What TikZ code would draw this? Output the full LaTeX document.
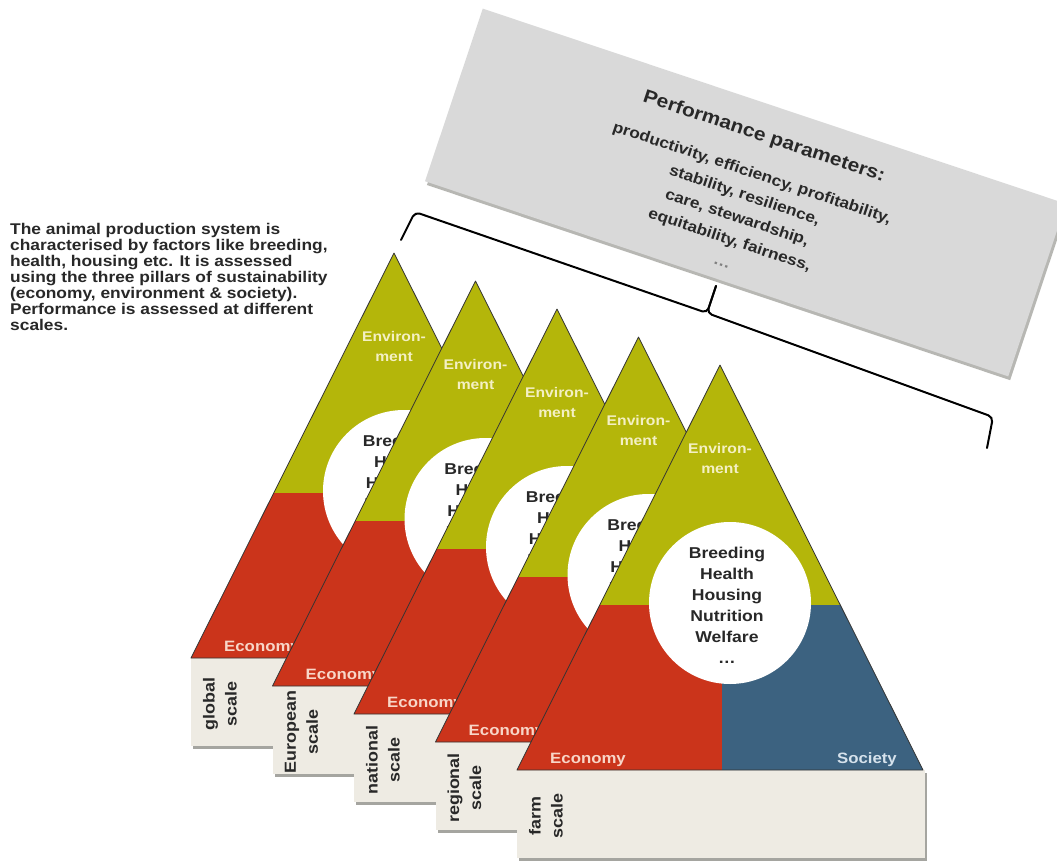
\documentclass[tikz,border=0pt]{standalone}
\usepackage{fontspec}
\setmainfont{Liberation Sans}[FakeStretch=1.12]
\definecolor{envcol}{RGB}{180,182,10}
\definecolor{ecocol}{RGB}{203,52,27}
\definecolor{soccol}{RGB}{60,98,128}
\definecolor{scalebg}{RGB}{238,235,227}
\definecolor{boxgray}{RGB}{217,217,217}
\definecolor{shadowcol}{RGB}{165,165,160}
\definecolor{envtxtcol}{RGB}{244,240,196}
\definecolor{ecotxtcol}{RGB}{248,214,200}
\definecolor{soctxtcol}{RGB}{214,226,236}
\definecolor{darktxt}{RGB}{40,40,40}
\tikzset{
  edge/.style={draw=black!80, line width=0.8pt, line join=round},
  scalebox/.style={fill=scalebg, minimum width=408pt, minimum height=88pt, inner sep=0pt},
  corecircle/.style={circle, fill=white, minimum size=162pt, inner sep=0pt},
  envtxt/.style={text=envtxtcol, align=center, inner sep=0pt, font=\fontsize{14}{20}\selectfont\bfseries},
  listtxt/.style={text=darktxt, align=center, inner sep=0pt, font=\fontsize{15.7}{21}\selectfont\bfseries},
  ecotxt/.style={text=ecotxtcol, inner sep=0pt, font=\fontsize{15}{18}\selectfont\bfseries},
  soctxt/.style={text=soctxtcol, inner sep=0pt, font=\fontsize{15}{18}\selectfont\bfseries},
  scaletxt/.style={text=darktxt, align=center, inner sep=0pt, rotate=90, font=\fontsize{16}{22}\selectfont\bfseries},
  lefttxt/.style={text=darktxt, align=left, inner sep=0pt, font=\fontsize{15.5}{16}\selectfont\bfseries},
  titletxt/.style={text=darktxt, inner sep=0pt, font=\fontsize{18.7}{22}\selectfont\bfseries},
  bodytxt/.style={text=darktxt, align=center, inner sep=0pt, font=\fontsize{15.4}{23.5}\selectfont\bfseries},
  bracestyle/.style={draw=black, line width=2pt, rounded corners=5pt, line cap=round},
}
\newcommand\pyramid[4]{%
  \begin{scope}[shift={(#2,#3)}]
    \fill[shadowcol] (-201,408) rectangle (207,496);
    \node[scalebox] (#1box) at (1,449) {};
    \begin{scope}
      \clip (0,0) -- (-203,405) -- (203,405) -- cycle;
      \fill[envcol] (-210,-5) rectangle (210,240);
      \fill[ecocol] (-210,240) rectangle (2,410);
      \fill[soccol] (2,240) rectangle (210,410);
    \end{scope}
    \node[corecircle] (#1core) at (10,238) {};
    \draw[edge] (0,0) coordinate (#1apex) -- (-203,405) coordinate (#1bl) -- (203,405) coordinate (#1br) -- cycle;
    \node[envtxt] (#1env) at (0,93) {Environ-\\ment};
    \node[listtxt] (#1list) at (7,240) {Breeding\\Health\\Housing\\Nutrition\\Welfare\\\ldots};
    \node[ecotxt, anchor=base west] (#1eco) at (-170,398) {Economy};
    \node[soctxt, anchor=base east] (#1soc) at (177,398) {Society};
    \node[scaletxt] (#1scale) at (-174,451) {#4};
  \end{scope}}
\begin{document}
\begin{tikzpicture}[x=1pt,y=-1pt]
  \useasboundingbox (0,0) rectangle (1057,861);
  \fill[white] (0,0) rectangle (1057,861);

  % intro text
  \node[lefttxt, anchor=north west] (intro) at (10,223) {The animal production system is\\characterised by factors like breeding,\\health, housing etc. It is assessed\\using the three pillars of sustainability\\(economy, environment \& society).\\Performance is assessed at different\\scales.};

  % brace
  \coordinate (bl0) at (401,240);
  \coordinate (bl1) at (415,212);
  \coordinate (bm) at (707,313);
  \coordinate (bs) at (716,286);
  \coordinate (br1) at (993,417);
  \coordinate (br0) at (987,448);
  \draw[bracestyle] (bl0) -- (bl1) -- (bm) -- (bs);
  \draw[bracestyle] (bs) -- (bm) -- (br1) -- (br0);

  % performance box
  \begin{scope}[shift={(745.5,192.5)}, rotate=-18.5]
    \fill[shadowcol!80] (-304.5,-88) rectangle (310.5,94);
    \fill[boxgray] (-307.5,-91) rectangle (307.5,91);
    \node[titletxt, transform shape] (ptitle) at (0,-58.5) {Performance parameters:};
    \node[bodytxt, transform shape] (pbody) at (0,25.5) {productivity, efficiency, profitability,\\stability, resilience,\\care, stewardship,\\equitability, fairness,\\{\color{gray}\ldots}};
  \end{scope}

  % pyramids, back to front
  \pyramid{glob}{394}{253}{global\\scale}
  \pyramid{euro}{475.5}{281}{European\\scale}
  \pyramid{nat}{557}{309}{national\\scale}
  \pyramid{reg}{638.5}{337}{regional\\scale}
  \pyramid{farm}{720}{365}{farm\\scale}
\end{tikzpicture}
\end{document}
